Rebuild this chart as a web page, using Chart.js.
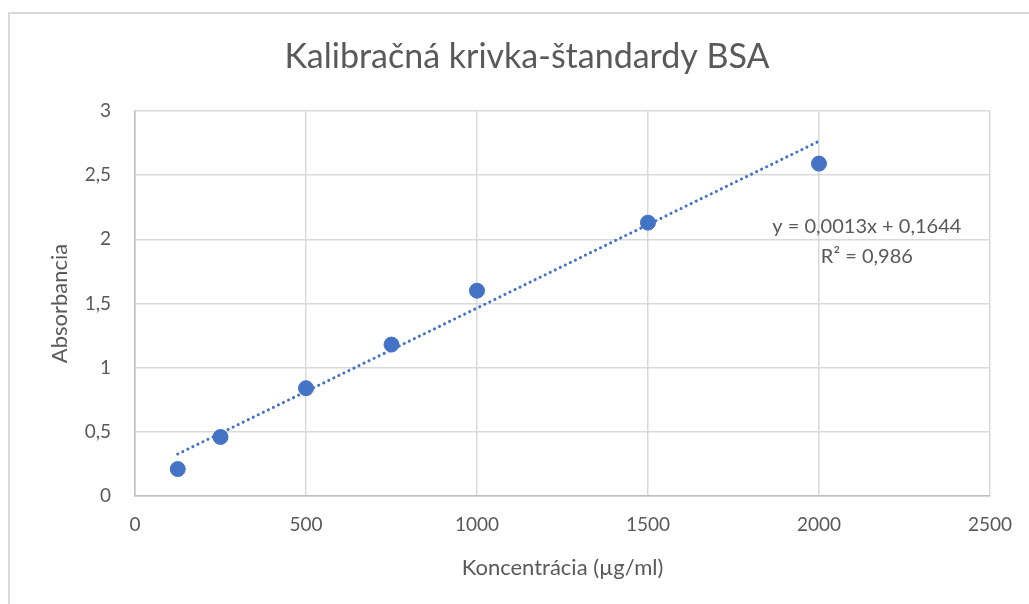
<!DOCTYPE html>
<html>
<head>
<meta charset="utf-8">
<script src="https://cdn.jsdelivr.net/npm/chart.js@4"></script>
<style>
  html, body { margin: 0; padding: 0; background: #fff; }
  #wrap { position: relative; width: 1029px; height: 604px; }
  #frame { position: absolute; left: 8px; top: 12px; right: -5px; bottom: -5px;
           border-left: 2px solid #d9d9d9; border-top: 2px solid #d9d9d9; }
  canvas { position: absolute; left: 0; top: 0; }
</style>
</head>
<body>
<div id="wrap">
  <div id="frame"></div>
  <canvas id="graf" width="1029" height="604"></canvas>
</div>
<script>
// koncentracie standardov (ug/ml) a namerane absorbancie
const koncentracie = [125, 250, 500, 750, 1000, 1500, 2000];
const absorbancie = [0.21, 0.46, 0.84, 1.18, 1.60, 2.13, 2.59];

// linearny trend podla rovnice z grafu
const smernica = 0.0013;
const posun = 0.1644;
const rovnica = 'y = 0,0013x + 0,1644';
const r2Text = 'R² = 0,986';
const nadpis = 'Kalibračná krivka-štandardy BSA';

const xMin = 0, xMax = 2500, xKrok = 500;
const yMin = 0, yMax = 3, yKrok = 0.5;

const bodyData = koncentracie.map((x, i) => ({ x: x, y: absorbancie[i] }));
const trendX = [koncentracie[0], koncentracie[koncentracie.length - 1]];
const trendData = trendX.map(x => ({ x: x, y: smernica * x + posun }));

const farbaTextu = '#595959';
const pismo = 'Lato';

// nadpis (centrovany na ramik grafu, nie na platno) a text rovnice trendu
const textyPlugin = {
    id: 'texty',
    afterDatasetsDraw(chart) {
        const ctx = chart.ctx;
        const xs = chart.scales.x, ys = chart.scales.y;
        ctx.save();
        ctx.fillStyle = farbaTextu;
        ctx.textAlign = 'center';
        ctx.textBaseline = 'middle';

        ctx.font = '34px ' + pismo;
        ctx.fillText(nadpis, 527, 57);

        ctx.font = '20px ' + pismo;
        const cx = xs.getPixelForValue(2140);
        ctx.fillText(rovnica, cx, ys.getPixelForValue(2.1));
        ctx.fillText(r2Text, cx, ys.getPixelForValue(1.865));
        ctx.restore();
    }
};

const ctx = document.getElementById('graf').getContext('2d');
new Chart(ctx, {
    type: 'scatter',
    data: {
        datasets: [
            {
                label: 'Trend',
                type: 'line',
                data: trendData,
                borderColor: '#4472C4',
                borderWidth: 3,
                borderDash: [0.1, 5.5],
                borderCapStyle: 'round',
                pointRadius: 0,
                fill: false,
                order: 2
            },
            {
                label: 'Absorbancia',
                data: bodyData,
                backgroundColor: '#4472C4',
                borderColor: '#4472C4',
                pointRadius: 7.5,
                pointHoverRadius: 7.5,
                order: 1
            }
        ]
    },
    options: {
        responsive: false,
        animation: false,
        layout: { padding: { left: 8, right: 38, top: 111, bottom: 0 } },
        plugins: {
            legend: { display: false },
            tooltip: { enabled: false },
            title: { display: false }
        },
        scales: {
            x: {
                type: 'linear',
                min: xMin, max: xMax,
                ticks: {
                    stepSize: xKrok,
                    color: farbaTextu,
                    font: { family: pismo, size: 19 },
                    padding: 17,
                    callback: v => String(v)
                },
                grid: { color: '#d9d9d9', lineWidth: 1.5, drawTicks: false },
                border: { color: '#bfbfbf', width: 1.5 },
                title: {
                    display: true,
                    text: 'Koncentrácia (µg/ml)',
                    color: farbaTextu,
                    font: { family: pismo, size: 22 },
                    padding: { top: 23, bottom: 23 }
                },
                afterFit(scale) { scale.height = 108; }
            },
            y: {
                min: yMin, max: yMax,
                ticks: {
                    stepSize: yKrok,
                    color: farbaTextu,
                    font: { family: pismo, size: 19 },
                    padding: 24,
                    callback: v => String(v).replace('.', ',')
                },
                grid: { color: '#d9d9d9', lineWidth: 1.5, drawTicks: false },
                border: { color: '#bfbfbf', width: 1.5 },
                title: {
                    display: true,
                    text: 'Absorbancia',
                    color: farbaTextu,
                    font: { family: pismo, size: 22 },
                    padding: { top: 39, bottom: 39 }
                },
                afterFit(scale) { scale.width = 127; }
            }
        }
    },
    plugins: [textyPlugin]
});
</script>
</body>
</html>
